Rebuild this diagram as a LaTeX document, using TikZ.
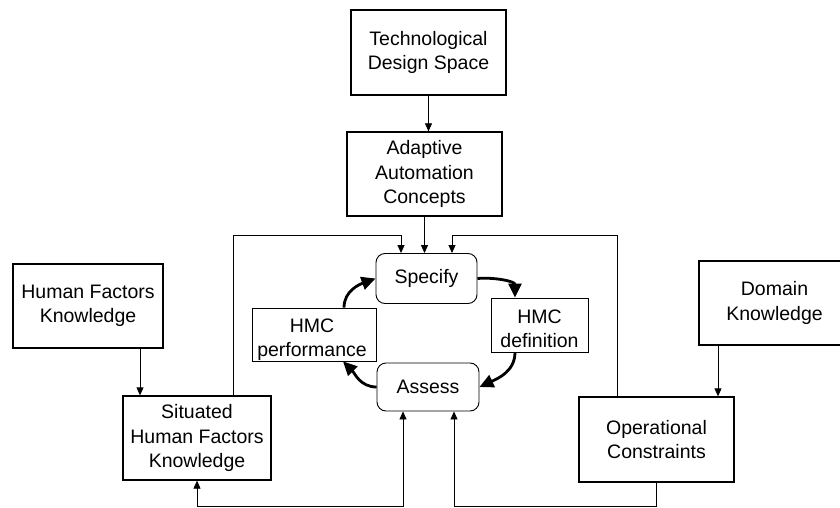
\documentclass[tikz,border=0pt]{standalone}
\usepackage{fontspec}
\setmainfont{Liberation Sans}
\usetikzlibrary{arrows.meta}
\begin{document}
\begin{tikzpicture}[x=1pt,y=-1pt,
  font=\fontsize{19.5}{24.5}\selectfont,
  box/.style={draw=black, line width=1.3pt, inner sep=0pt, align=center},
  thinbox/.style={draw=black, line width=0.8pt, inner sep=0pt, align=center},
  roundbox/.style={draw=black, line width=0.9pt, rounded corners=9pt, inner sep=0pt, align=center},
  txt/.style={inner sep=0pt, align=center},
  conn/.style={draw=black, line width=0.8pt, -{Triangle[length=8pt,width=7pt]}},
  conn2/.style={draw=black, line width=0.8pt, {Triangle[length=8pt,width=7pt]}-{Triangle[length=8pt,width=7pt]}},
  cyc/.style={draw=black, line width=2.8pt, -{Triangle[length=14pt,width=13pt]}}
]
\useasboundingbox (0,0) rectangle (840,508);
\clip (0,0) rectangle (840,508);

% nodes
\node[box, minimum width=155, minimum height=85] (tech) at (428.5,52.5) {Technological\\Design Space};
\node[box, minimum width=155, minimum height=84] (adapt) at (424.5,174) {Adaptive\\Automation\\Concepts};
\node[roundbox, minimum width=101, minimum height=50] (spec) at (426.5,278.5) {Specify};
\node[roundbox, minimum width=102, minimum height=48] (assess) at (428,387) {Assess};
\node[thinbox, minimum width=97, minimum height=54] (hmcdef) at (539.5,325) {};
\node[txt] (hmcdeft) at (539.5,329) {HMC\\definition};
\node[thinbox, minimum width=124, minimum height=53] (hmcperf) at (314,334.5) {};
\node[txt] (hmcperft) at (312,339.5) {HMC\\performance};
\node[box, minimum width=150, minimum height=84] (hfk) at (88,306) {Human Factors\\Knowledge};
\node[box, minimum width=148, minimum height=84] (sit) at (197,438) {Situated\\Human Factors\\Knowledge};
\node[box, minimum width=151, minimum height=84] (dom) at (774.5,303) {Domain\\Knowledge};
\node[box, minimum width=155, minimum height=85] (oper) at (656.5,439.5) {Operational\\Constraints};

\coordinate (lc) at (233,235);
\coordinate (rc) at (617,235);
\coordinate (bot) at (0,506);

% thin connectors
\draw[conn] (tech.south) -- (tech.south |- adapt.north);
\draw[conn] (adapt.south) -- (adapt.south |- spec.north);
\draw[conn] (sit.north -| lc) -- (lc) -| ([xshift=-25.5]spec.north);
\draw[conn] (oper.north -| rc) -- (rc) -| ([xshift=25.5]spec.north);
\draw[conn] ([xshift=52]hfk.south) -- ([xshift=52]hfk.south |- sit.north);
\draw[conn] ([xshift=-56.5]dom.south) -- ([xshift=-56.5]dom.south |- oper.north);
\draw[conn2] (sit.south) -- (sit.south |- bot) -| ([xshift=-25]assess.south);
\draw[conn] (oper.south) -- (oper.south |- bot) -| ([xshift=26]assess.south);

% cycle arrows
\draw[cyc] (spec.east) to[out=5, in=90] ([xshift=-24.5]hmcdef.north);
\draw[cyc] ([xshift=-24.5]hmcdef.south) to[out=-90, in=25] (assess.east);
\draw[cyc] (assess.west) to[out=180, in=-45] ([xshift=29]hmcperf.south);
\draw[cyc] ([xshift=30]hmcperf.north) to[out=90, in=200] (spec.west);
\end{tikzpicture}
\end{document}
